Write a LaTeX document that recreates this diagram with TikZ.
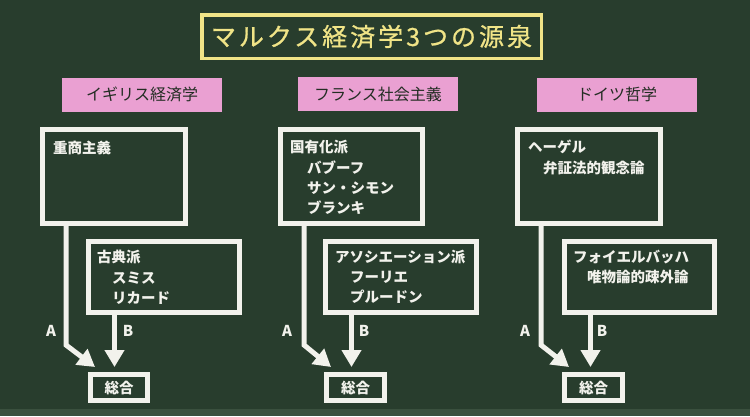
\documentclass[tikz,border=0pt]{standalone}
\usepackage{fontspec}
\usetikzlibrary{arrows.meta,calc}
\newfontfamily\jp{Noto Sans CJK JP}
\newfontfamily\jptitle{Noto Sans CJK JP}[LetterSpace=12,FakeBold=0.8]
\definecolor{board}{RGB}{40,61,45}
\definecolor{boardlight}{RGB}{58,80,62}
\definecolor{chalk}{RGB}{242,242,236}
\definecolor{chalkyellow}{RGB}{240,228,135}
\definecolor{pinkcard}{RGB}{234,160,210}
\definecolor{ink}{RGB}{35,45,35}
\tikzset{
  titlebox/.style={draw=chalkyellow,line width=3.5pt,fill=board,inner sep=0pt,
    text=chalkyellow,font=\jptitle\fontsize{25}{25}\selectfont},
  pinkcard/.style={fill=pinkcard,inner sep=0pt,minimum width=160pt,minimum height=34pt,
    text=ink,font=\jp\fontsize{16}{16}\selectfont},
  wbox/.style={draw=chalk,line width=5pt,inner sep=0pt},
  btext/.style={anchor=west,inner sep=0pt,text=chalk,font=\jp\bfseries\fontsize{14.5}{14.5}\selectfont},
  stext/.style={inner sep=0pt,text=chalk,font=\jp\bfseries\fontsize{14.5}{14.5}\selectfont},
  ablabel/.style={inner sep=0pt,text=chalk,font=\jp\bfseries\fontsize{15}{15}\selectfont},
  arr/.style={draw=chalk,line width=5pt,line join=miter,-{Triangle[width=19pt,length=17pt]}},
}
\begin{document}
\begin{tikzpicture}[x=1pt,y=-1pt]
\useasboundingbox (0,0) rectangle (750,416);
\fill[board] (0,0) rectangle (750,416);
\fill[boardlight] (0,409) rectangle (750,416);

% title
\node[titlebox,minimum width=339.5pt,minimum height=43.5pt] (t) at (371.5,36.5) {マルクス経済学3つの源泉};

% pink headings
\node[pinkcard] (l1) at (142,94.5) {イギリス経済学};
\node[pinkcard] (l2) at (378,94) {フランス社会主義};
\node[pinkcard] (l3) at (617,94.5) {ドイツ哲学};

% ---------- left column
\node[wbox,minimum width=143pt,minimum height=94pt] (b11) at (114,176.5) {};
\node[wbox,minimum width=151pt,minimum height=71pt] (b12) at (164,277) {};
\node[wbox,minimum width=57pt,minimum height=26pt] (s1) at (119,387.5) {};
\node[stext] (s1t) at (s1) {総合};
\node[btext] (x11) at (53,148) {重商主義};
\node[btext] (x12) at (97,257) {古典派};
\node[btext] (x13) at (112,278) {スミス};
\node[btext] (x14) at (112,298) {リカード};

% ---------- middle column
\node[wbox,minimum width=142pt,minimum height=94pt] (b21) at (351.5,176.5) {};
\node[wbox,minimum width=151pt,minimum height=71pt] (b22) at (401,277) {};
\node[wbox,minimum width=58pt,minimum height=26pt] (s2) at (355.5,387.5) {};
\node[stext] (s2t) at (s2) {総合};
\node[btext] (x21) at (290,147) {国有化派};
\node[btext] (x22) at (307,168) {バブーフ};
\node[btext] (x23) at (307,188) {サン・シモン};
\node[btext] (x24) at (307,208) {ブランキ};
\node[btext] (x25) at (335,257) {アソシエーション派};
\node[btext] (x26) at (350,277) {フーリエ};
\node[btext] (x27) at (350,297) {プルードン};

% ---------- right column
\node[wbox,minimum width=143pt,minimum height=94pt] (b31) at (589,176.5) {};
\node[wbox,minimum width=150pt,minimum height=71pt] (b32) at (639.5,277) {};
\node[wbox,minimum width=58pt,minimum height=26pt] (s3) at (593.5,387.5) {};
\node[stext] (s3t) at (s3) {総合};
\node[btext] (x31) at (528,147) {ヘーゲル};
\node[btext] (x32) at (543,168) {弁証法的観念論};
\node[btext] (x33) at (573,257) {フォイエルバッハ};
\node[btext] (x34) at (587,277) {唯物論的疎外論};

% ---------- arrows
\foreach \i in {1,2,3}{
  \coordinate (as\i) at ($(b\i1.south west)+(26,-3)$);
  \coordinate (ab\i) at ($(s\i.north west)+(0,-27)$);
  \coordinate (at\i) at ($(s\i.north west)+(7,-5)$);
  \coordinate (bs\i) at ($(b\i2.south west)+(28.5,-3)$);
  \coordinate (bt\i) at ($(s\i.north west)+(27,-5)$);
  \draw[arr] (as\i) -- (as\i |- ab\i) -- (at\i);
  \draw[arr] (bs\i) -- (bs\i |- bt\i);
  \node[ablabel] (la\i) at ($(s\i.north west)+(-37,-41)$) {A};
  \node[ablabel] (lb\i) at ($(s\i.north west)+(40,-41)$) {B};
}
\end{tikzpicture}
\end{document}
